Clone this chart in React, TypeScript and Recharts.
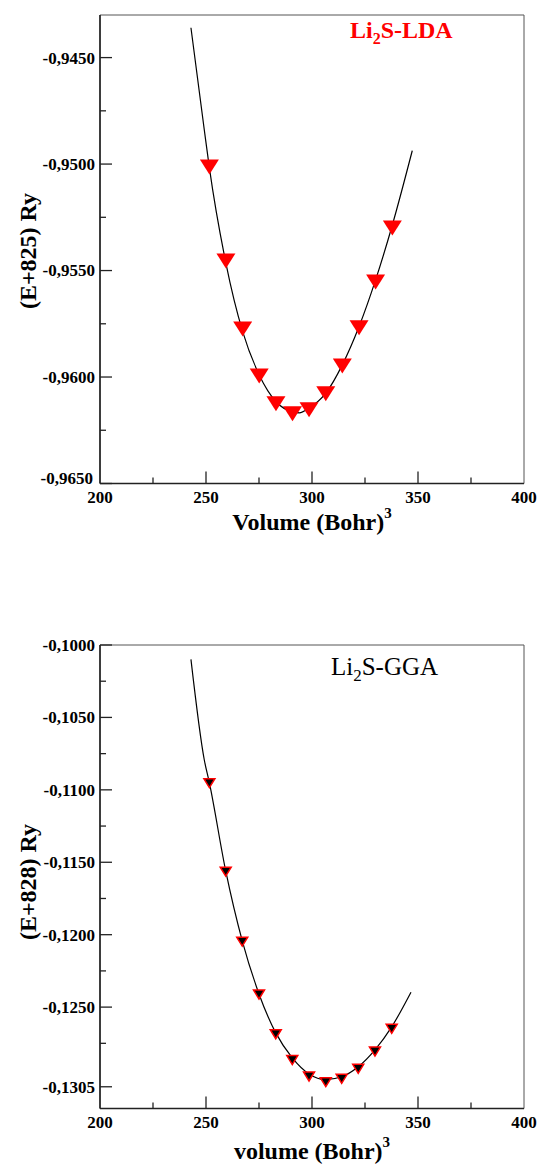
import React from 'react';
import { ComposedChart, Line, Scatter, XAxis, YAxis, ReferenceArea } from 'recharts';

const FONT = '"Liberation Serif", "Times New Roman", serif';

// ---------- LDA (top) ----------
const ldaVolume = [251.6, 259.4, 267.3, 275.1, 283.0, 290.8, 298.6, 306.5, 314.3, 322.2, 330.0, 337.9];
const ldaEnergy = [-0.95014, -0.95455, -0.95774, -0.95995, -0.96126, -0.96173, -0.96154, -0.96079, -0.95948, -0.95769, -0.95554, -0.953];
const ldaFitVolume = [242.9, 249.2, 251.6, 259.4, 267.3, 275.1, 283.0, 290.8, 294.0, 298.6, 306.5, 314.3, 322.2, 330.0, 337.9, 347.3];
const ldaFitEnergy = [-0.9436, -0.9484, -0.95018, -0.95466, -0.95787, -0.9599, -0.96115, -0.96164, -0.96168, -0.96146, -0.96076, -0.95943, -0.95763, -0.95544, -0.95286, -0.94937];
const ldaYTicks = [-0.965, -0.9625, -0.96, -0.9575, -0.955, -0.9525, -0.95, -0.9475, -0.945];
const ldaYMajor = [-0.965, -0.96, -0.955, -0.95, -0.945];

// ---------- GGA (bottom) ----------
const ggaVolume = [251.6, 259.3, 267.1, 275.0, 282.9, 290.7, 298.6, 306.5, 314.0, 321.8, 329.7, 337.6];
const ggaEnergy = [-0.10954, -0.11565, -0.12048, -0.12413, -0.12687, -0.12866, -0.12979, -0.13018, -0.12995, -0.12926, -0.12807, -0.1265];
const ggaFitVolume = [242.9, 249.2, 251.6, 259.3, 267.1, 275.0, 282.9, 290.7, 298.6, 306.5, 314.0, 321.8, 329.7, 337.6, 346.7];
const ggaFitEnergy = [-0.10099, -0.10794, -0.10952, -0.1156, -0.12043, -0.12409, -0.12678, -0.1285, -0.12961, -0.13, -0.12981, -0.12912, -0.12795, -0.12636, -0.12397];
const ggaYTicks = [-0.1, -0.1025, -0.105, -0.1075, -0.11, -0.1125, -0.115, -0.1175, -0.12, -0.1225, -0.125, -0.1275, -0.1305];
const ggaYMajor = [-0.1, -0.105, -0.11, -0.115, -0.12, -0.125, -0.1305];

// ---------- shared x axis ----------
const xTicks = [200, 225, 250, 275, 300, 325, 350, 375, 400];
const xMajor = [200, 250, 300, 350, 400];

const zip = (xs: number[], ys: number[]) => xs.map((v, i) => ({ v, e: ys[i] }));

const isMajor = (list: number[], val: number) => list.some((m) => Math.abs(m - val) < 1e-7);

const fmtY = (val: number) => val.toFixed(4).replace('.', ',');

const YTick = (props: any) => {
  const { x, y, payload, majors, bottomValue } = props;
  const axisX = x + 5;
  const major = isMajor(majors, payload.value);
  const atBottom = Math.abs(payload.value - bottomValue) < 1e-7;
  return (
    <g>
      <line x1={axisX} x2={axisX + (major ? 12 : 6)} y1={y} y2={y} stroke="#222" strokeWidth={1.3} />
      {major && (
        <text
          x={x - (atBottom ? 2 : 0)}
          y={y - (atBottom ? 5 : 0)}
          dy="0.35em"
          textAnchor="end"
          fontFamily={FONT}
          fontWeight="bold"
          fontSize={17}
          fill="#000"
        >
          {fmtY(payload.value)}
        </text>
      )}
    </g>
  );
};

const XTick = (props: any) => {
  const { x, y, payload } = props;
  const axisY = y - 6;
  const major = isMajor(xMajor, payload.value);
  return (
    <g>
      {payload.value !== 200 && payload.value !== 400 && (
        <line x1={x} x2={x} y1={axisY} y2={axisY - (major ? 12 : 6)} stroke="#222" strokeWidth={1.3} />
      )}
      {major && (
        <text x={x} y={y + 1} dy="0.71em" textAnchor="middle" fontFamily={FONT} fontWeight="bold" fontSize={17} fill="#000">
          {payload.value}
        </text>
      )}
    </g>
  );
};

const TriDown = ({ cx, cy, w, h, fill, stroke, sw }: any) => (
  <polygon
    points={`${cx - w / 2},${cy - h / 2} ${cx + w / 2},${cy - h / 2} ${cx},${cy + h / 2}`}
    fill={fill}
    stroke={stroke}
    strokeWidth={sw}
  />
);

type PanelProps = {
  height: number;
  margin: { top: number; right: number; left: number; bottom: number };
  domain: [number, number];
  yTicks: number[];
  yMajor: number[];
  points: { v: number; e: number }[];
  fit: { v: number; e: number }[];
  marker: (p: any) => React.ReactElement;
};

const Panel = ({ height, margin, domain, yTicks, yMajor, points, fit, marker }: PanelProps) => (
  <ComposedChart width={542} height={height} margin={margin}>
    <ReferenceArea x1={200} x2={400} y1={domain[0]} y2={domain[1]} fill="none" stroke="#555" strokeWidth={1} />
    <XAxis
      type="number"
      dataKey="v"
      domain={[200, 400]}
      ticks={xTicks}
      interval={0}
      height={40}
      tickSize={0}
      tickMargin={6}
      tickLine={false}
      axisLine={{ stroke: '#222', strokeWidth: 1.6 }}
      tick={(p: any) => <XTick {...p} />}
      allowDataOverflow
    />
    <YAxis
      type="number"
      domain={domain}
      ticks={yTicks}
      interval={0}
      width={90}
      tickSize={0}
      tickMargin={5}
      tickLine={false}
      axisLine={{ stroke: '#222', strokeWidth: 1.6 }}
      tick={(p: any) => <YTick {...p} majors={yMajor} bottomValue={domain[0]} />}
      allowDataOverflow
    />
    <Scatter data={points} dataKey="e" isAnimationActive={false} shape={marker} />
    <Line data={fit} dataKey="e" type="monotone" stroke="#000" strokeWidth={1.2} dot={false} activeDot={false} isAnimationActive={false} />
  </ComposedChart>
);

const abs = (left: number, top: number, extra: React.CSSProperties = {}): React.CSSProperties => ({
  position: 'absolute',
  left,
  top,
  fontFamily: FONT,
  whiteSpace: 'nowrap',
  lineHeight: 1,
  ...extra,
});

export default function App() {
  const ldaPts = zip(ldaVolume, ldaEnergy);
  const ldaFit = zip(ldaFitVolume, ldaFitEnergy);
  const ggaPts = zip(ggaVolume, ggaEnergy);
  const ggaFit = zip(ggaFitVolume, ggaFitEnergy);

  return (
    <div style={{ position: 'absolute', left: 0, top: 0, width: 542, height: 1164, background: '#fff', overflow: 'hidden' }}>
      <div style={{ position: 'absolute', left: 0, top: 0 }}>
        <Panel
          height={560}
          margin={{ top: 15, right: 18, left: 10, bottom: 36.5 }}
          domain={[-0.965, -0.943]}
          yTicks={ldaYTicks}
          yMajor={ldaYMajor}
          points={ldaPts}
          fit={ldaFit}
          marker={(p: any) => <TriDown cx={p.cx} cy={p.cy} w={19} h={15} fill="#ff0000" stroke="none" sw={0} />}
        />
      </div>
      <div style={{ position: 'absolute', left: 0, top: 600 }}>
        <Panel
          height={564}
          margin={{ top: 45, right: 18, left: 10, bottom: 15.5 }}
          domain={[-0.132, -0.1]}
          yTicks={ggaYTicks}
          yMajor={ggaYMajor}
          points={ggaPts}
          fit={ggaFit}
          marker={(p: any) => <TriDown cx={p.cx} cy={p.cy} w={11} h={9} fill="#000" stroke="#ff0000" sw={1.5} />}
        />
      </div>

      {/* Panel titles */}
      <div style={abs(350, 18, { fontSize: 24, fontWeight: 'bold', color: '#ff0000' })}>
        Li<span style={{ fontSize: 16, position: 'relative', top: 6 }}>2</span>S-LDA
      </div>
      <div style={abs(331, 654, { fontSize: 25, color: '#000' })}>
        Li<span style={{ fontSize: 17, position: 'relative', top: 6 }}>2</span>S-GGA
      </div>

      {/* Y axis titles */}
      <div style={abs(28, 251, { fontSize: 24, fontWeight: 'bold', transform: 'translate(-50%, -50%) rotate(-90deg)' })}>
        (E+825) Ry
      </div>
      <div style={abs(28, 882, { fontSize: 24, fontWeight: 'bold', transform: 'translate(-50%, -50%) rotate(-90deg)' })}>
        (E+828) Ry
      </div>

      {/* X axis titles */}
      <div style={abs(312, 522, { fontSize: 24, fontWeight: 'bold', transform: 'translate(-50%, -50%)' })}>
        Volume (Bohr)<span style={{ fontSize: 15, position: 'relative', top: -12 }}>3</span>
      </div>
      <div style={abs(312, 1151, { fontSize: 24, fontWeight: 'bold', transform: 'translate(-50%, -50%)' })}>
        volume (Bohr)<span style={{ fontSize: 15, position: 'relative', top: -12 }}>3</span>
      </div>
    </div>
  );
}
